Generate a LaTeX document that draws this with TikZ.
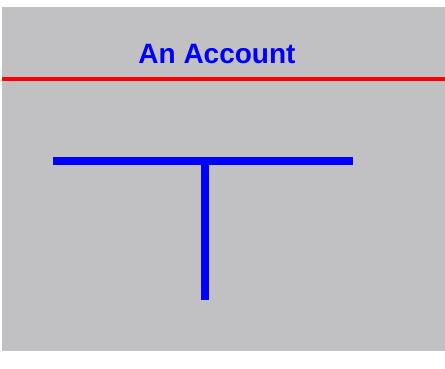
\documentclass[tikz,border=0pt]{standalone}
\usepackage{fontspec}
\setmainfont{Liberation Sans}
\usepackage{tikz}
\definecolor{panelgray}{RGB}{193,193,195}

\begin{document}
\begin{tikzpicture}[x=1pt, y=1pt,
    title text/.style={text=blue, font=\fontsize{28}{30}\selectfont\bfseries, anchor=base},
    rule line/.style={red, line width=4pt},
    t line/.style={blue, line width=7.5pt}]
\useasboundingbox (0,0) rectangle (445,368);
\fill [panelgray] (2,17) rectangle (445,361);

\node [title text] (title) at (217,304.5) {An Account};

\coordinate (rule-left) at (2,289);
\coordinate (rule-right) at (445,289);
\draw [rule line] (rule-left) -- (rule-right);

% the T
\coordinate (bar-left) at (53,207);
\coordinate (bar-right) at (353,207);
\coordinate (stem-top) at (205,207);
\coordinate (stem-bottom) at (205,68);
\draw [t line] (bar-left) -- (bar-right);
\draw [t line] (stem-top) -- (stem-bottom);
\end{tikzpicture}
\end{document}
